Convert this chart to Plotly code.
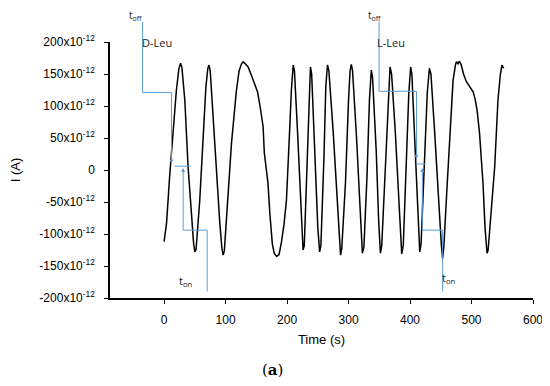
import plotly.graph_objects as go

# ---- data (time in s, current in pA) ----
time_s = [0, 2, 4, 9, 14.6, 20, 24, 26.7, 29, 33.7, 39, 44.5, 48, 50, 52, 58, 63.4, 68, 71, 73, 75,
          79.7, 85, 90.6, 94, 96, 98, 104, 109.6, 117.7, 122, 126, 128.5, 131, 134, 136.6, 142,
          147, 152, 156, 161, 163, 166, 169, 172, 176, 179, 183, 187, 191, 195, 199, 204, 207,
          210, 212, 217, 222, 226, 228, 233, 236, 238, 240, 245, 250, 253, 255, 260, 263, 265.7,
          268, 275, 282, 285.5, 287, 289, 295, 300, 302.5, 304.5, 306.5, 313, 319, 322.5, 325,
          330, 334, 337, 339, 345, 349, 351.8, 354, 359, 364, 367.5, 370, 376, 382, 386.5, 389,
          394, 398, 401, 403, 408, 413, 415.8, 418, 423, 428, 431.5, 434, 440, 447, 451, 453,
          455, 460, 465, 470, 474, 475.5, 478, 480, 483, 487, 491.7, 497, 502.6, 506, 509, 513,
          518.7, 522, 525.2, 527, 532, 537.7, 543, 547, 549.6, 552.4]
current_pA = [-112, -100, -83, -10, 57, 125, 158, 167, 160, 109, 5, -73, -115, -128, -124, -47, 57,
              130, 158, 164, 155, 83, -10, -83, -122, -133, -126, -47, 42, 125, 155, 166, 169, 167,
              163, 161, 148, 135, 122, 100, 68, 27, 0, -21, -68, -115, -130, -135, -132, -112,
              -85, -47, 58, 125, 164, 155, 60, -40, -125, -118, 30, 135, 161, 150, 40, -90, -128,
              -118, 20, 130, 164, 155, 60, -60, -120, -133, -122, -20, 110, 155, 165, 155, 50,
              -80, -130, -120, -10, 110, 156, 145, 30, -80, -130, -118, -10, 110, 161, 150, 60,
              -50, -131, -118, 0, 120, 161, 150, 40, -80, -128, -115, 0, 120, 159, 150, 60, -60,
              -118, -138, -120, -30, 60, 140, 165, 169, 166, 170, 165, 150, 138, 130, 122, 110, 94,
              58, -21, -90, -130, -125, -60, 5, 109, 150, 164, 159]

y_range = [-200, 200]
x_range = [-88, 600]
y_tick_vals = [-200, -150, -100, -50, 0, 50, 100, 150, 200]
y_tick_text = ["-200x10<sup>-12</sup>", "-150x10<sup>-12</sup>", "-100x10<sup>-12</sup>",
               "-50x10<sup>-12</sup>", "0", "50x10<sup>-12</sup>", "100x10<sup>-12</sup>",
               "150x10<sup>-12</sup>", "200x10<sup>-12</sup>"]
x_tick_vals = [0, 100, 200, 300, 400, 500, 600]

# callout paths (time s, current pA); last segment gets an arrow head when flagged
callout_paths = [
    ([(-35, 231), (-35, 121), (12, 121), (12, 10)], True),
    ([(70, -190), (70, -94), (31, -94), (31, 3)], True),
    ([(17, 6), (43, 6)], False),
    ([(349.6, 232), (349.6, 123), (410.5, 123), (410.5, 17)], True),
    ([(409.8, 9.4), (425, 9.4)], False),
    ([(453, -190), (453, -94), (420, -94), (420, 3)], True),
]
callout_texts = ["t<sub>off</sub>", "D-Leu", "t<sub>on</sub>", "t<sub>off</sub>", "L-Leu", "t<sub>on</sub>"]
callout_text_t = [-45, -11, 36.4, 342.6, 368.7, 464]
callout_text_i = [241, 199, -174, 241, 199, -169]
callout_text_size = [10, 11, 11, 10, 11, 11]

BLUE = "#5b9bd5"

fig = go.Figure()
fig.add_trace(go.Scatter(x=time_s, y=current_pA, mode="lines",
                         line=dict(color="black", width=1.5), showlegend=False))

annotations = []
for path, head in callout_paths:
    for i in range(len(path) - 1):
        (x0, y0), (x1, y1) = path[i], path[i + 1]
        last = head and i == len(path) - 2
        annotations.append(dict(
            x=x1, y=y1, ax=x0, ay=y0, xref="x", yref="y", axref="x", ayref="y",
            text="", showarrow=True, arrowhead=2 if last else 0, arrowsize=0.8,
            arrowwidth=1, arrowcolor=BLUE, standoff=0, startstandoff=0,
            borderpad=0, borderwidth=0))
for txt, tx, ty, fs in zip(callout_texts, callout_text_t, callout_text_i, callout_text_size):
    # labels above the axis range are placed on the paper scale for y
    annotations.append(dict(x=tx, y=(ty - y_range[0]) / (y_range[1] - y_range[0]),
                            xref="x", yref="paper", xanchor="center", yanchor="middle",
                            text=txt, showarrow=False, borderpad=0,
                            font=dict(family="Open Sans", size=fs, color="#222222")))
annotations.append(dict(x=0.385, y=-0.28, xref="paper", yref="paper",
                        xanchor="center", yanchor="middle",
                        text="(<b>a</b>)", showarrow=False,
                        font=dict(family="DejaVu Serif", size=15, color="black")))

fig.update_layout(
    width=542, height=378,
    margin=dict(l=102, r=17, t=34, b=88, autoexpand=False),
    paper_bgcolor="white", plot_bgcolor="white",
    font=dict(family="Liberation Sans", size=12, color="black"),
    annotations=annotations,
    xaxis=dict(range=x_range, tickvals=x_tick_vals, showgrid=False, zeroline=False,
               showline=True, linecolor="black", linewidth=1.5, ticks="outside",
               ticklen=4, tickwidth=1, tickcolor="black", ticklabelstandoff=6,
               title=dict(text="Time (s)", standoff=9, font=dict(size=13))),
    yaxis=dict(range=y_range, tickvals=y_tick_vals, ticktext=y_tick_text, showgrid=False,
               zeroline=False, showline=True, linecolor="black", linewidth=1.5,
               ticks="outside", ticklen=4, tickwidth=1, tickcolor="black",
               ticklabelstandoff=7,
               title=dict(text="I (A)", standoff=29, font=dict(size=13))),
)

fig.write_html("out.html")
